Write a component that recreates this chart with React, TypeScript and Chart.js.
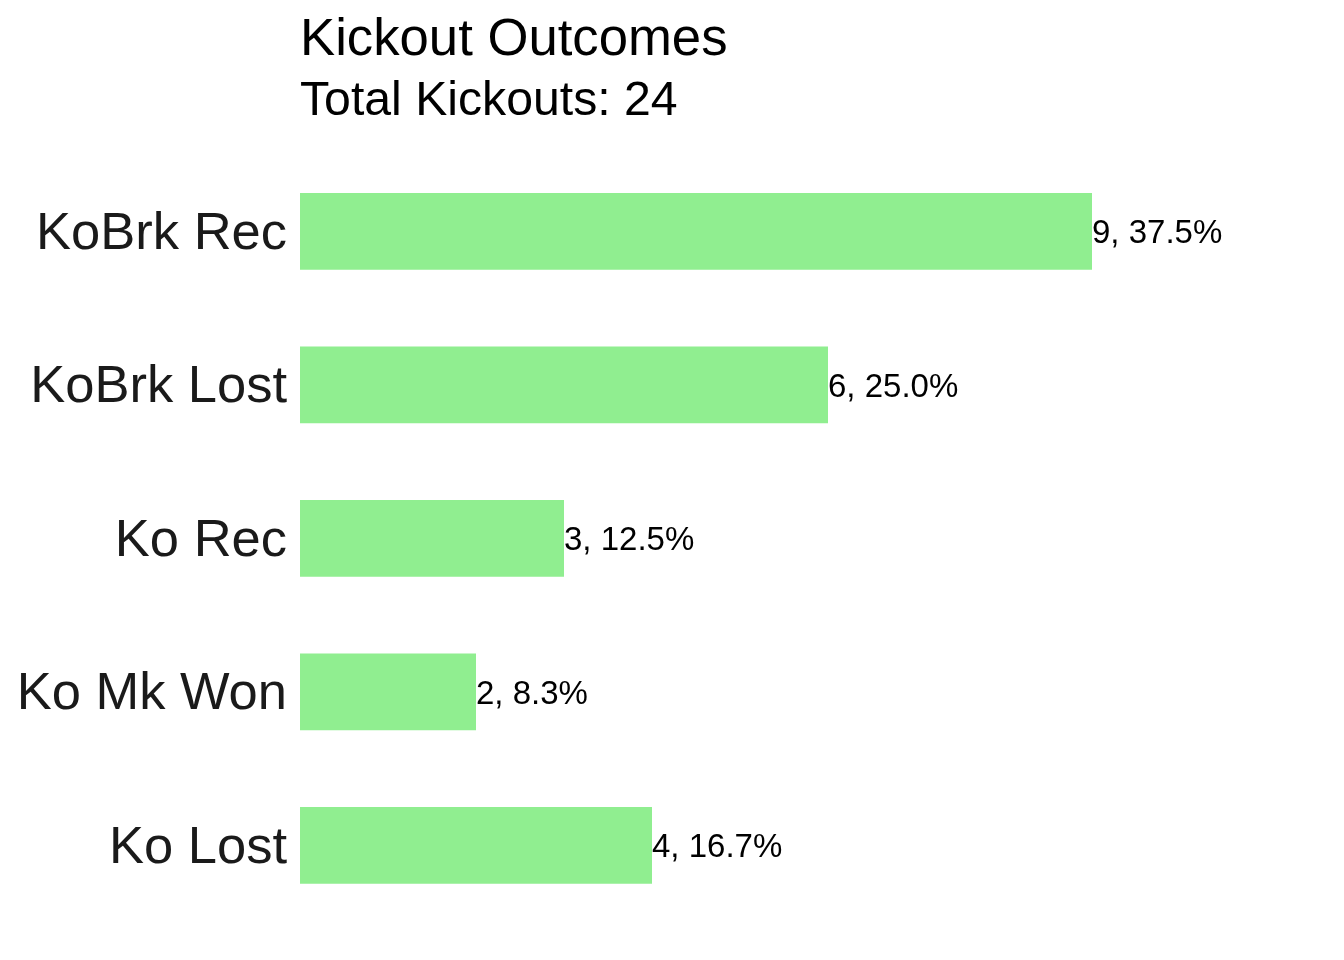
import React, { useEffect, useRef } from "react";
import { Chart, registerables } from "chart.js";

Chart.register(...registerables);

const categories = ["KoBrk Rec", "KoBrk Lost", "Ko Rec", "Ko Mk Won", "Ko Lost"];
const counts = [9, 6, 3, 2, 4];
const titleText = "Kickout Outcomes";
const subtitleText = "Total Kickouts: 24";

const FONT = "'Liberation Sans', Arial, sans-serif";

export default function App() {
  const ref = useRef<HTMLCanvasElement | null>(null);

  useEffect(() => {
    const canvas = ref.current;
    if (!canvas) return;
    const total = counts.reduce((a, b) => a + b, 0);
    const labels = counts.map((v) => `${v}, ${((v / total) * 100).toFixed(1)}%`);

    const textPlugin = {
      id: "texts",
      afterDatasetsDraw(chart: any) {
        const ctx = chart.ctx;
        const area = chart.chartArea;
        ctx.save();
        ctx.fillStyle = "#000000";
        ctx.textAlign = "left";
        ctx.textBaseline = "alphabetic";
        ctx.font = `52.7px ${FONT}`;
        ctx.fillText(titleText, area.left, 55);
        ctx.font = `48.2px ${FONT}`;
        ctx.fillText(subtitleText, area.left, 115);
        const meta = chart.getDatasetMeta(0);
        ctx.font = `33px ${FONT}`;
        ctx.textBaseline = "middle";
        meta.data.forEach((bar: any, i: number) => {
          ctx.fillText(labels[i], bar.x, bar.y + 3);
        });
        ctx.restore();
      },
    };

    const chart = new Chart(canvas, {
      type: "bar",
      data: {
        labels: categories,
        datasets: [
          {
            data: counts,
            backgroundColor: "#90EE90",
            borderWidth: 0,
            barPercentage: 0.5,
            categoryPercentage: 1,
          },
        ],
      },
      options: {
        indexAxis: "y",
        animation: false,
        responsive: false,
        devicePixelRatio: 1,
        layout: { padding: { top: 154.5, bottom: 38, left: 0, right: 0 } },
        plugins: {
          legend: { display: false },
          title: { display: false },
          tooltip: { enabled: false },
        },
        scales: {
          x: {
            display: false,
            min: 0,
            max: 1044 / 88,
          },
          y: {
            afterFit: (scale: any) => {
              scale.width = 300;
              scale.paddingTop = 0;
              scale.paddingBottom = 0;
            },
            grid: { display: false, drawTicks: false },
            border: { display: false },
            ticks: {
              padding: 13,
              labelOffset: 3,
              color: "#1A1A1A",
              font: { family: FONT, size: 52.5 },
            },
          },
        },
      },
      plugins: [textPlugin],
    });

    return () => chart.destroy();
  }, []);

  return (
    <div style={{ position: "fixed", left: 0, top: 0, width: 1344, height: 960, background: "#ffffff" }}>
      <canvas ref={ref} width={1344} height={960} style={{ display: "block" }} />
    </div>
  );
}
